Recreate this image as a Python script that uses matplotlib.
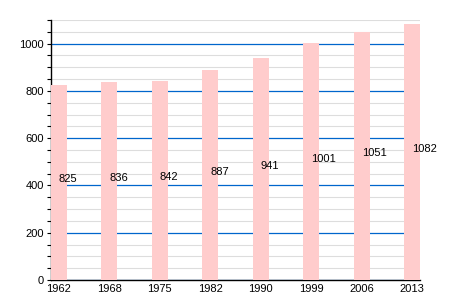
import matplotlib
matplotlib.use("Agg")
import matplotlib.pyplot as plt
from matplotlib.ticker import MultipleLocator

years = ["1962", "1968", "1975", "1982", "1990", "1999", "2006", "2013"]
population = [825, 836, 842, 887, 941, 1001, 1051, 1082]

plt.rcParams["font.family"] = ["Liberation Sans", "DejaVu Sans"]

fig = plt.figure(figsize=(4.5, 3), dpi=100)
ax = fig.add_axes([51 / 450, 20 / 300, 369 / 450, 260 / 300])

pos = list(range(len(years)))
ax.bar(pos, population, width=0.31, color="#ffcccc", zorder=3)

# etiquetas a media altura, empezando en el centro de la barra
for x, v in zip(pos, population):
    ax.text(x, v / 2 + 13, str(v), ha="left", va="center", fontsize=8, zorder=4)

ax.set_xlim(-0.155, 7.155)
ax.set_ylim(0, 1100)
ax.yaxis.set_major_locator(MultipleLocator(200))
ax.yaxis.set_minor_locator(MultipleLocator(50))
ax.grid(axis="y", which="minor", color="#dddddd", linewidth=0.8, zorder=1)
ax.grid(axis="y", which="major", color="#0066cc", linewidth=0.9, zorder=2)

ax.set_xticks(pos)
ax.set_xticklabels(years)
ax.tick_params(axis="x", length=0, labelsize=8, pad=3)
ax.tick_params(axis="y", which="both", length=3, width=0.8, labelsize=8, pad=2)

for s in ["top", "right"]:
    ax.spines[s].set_visible(False)
ax.spines["left"].set_linewidth(1)
ax.spines["bottom"].set_linewidth(1)

fig.savefig("out.png", dpi=100)
